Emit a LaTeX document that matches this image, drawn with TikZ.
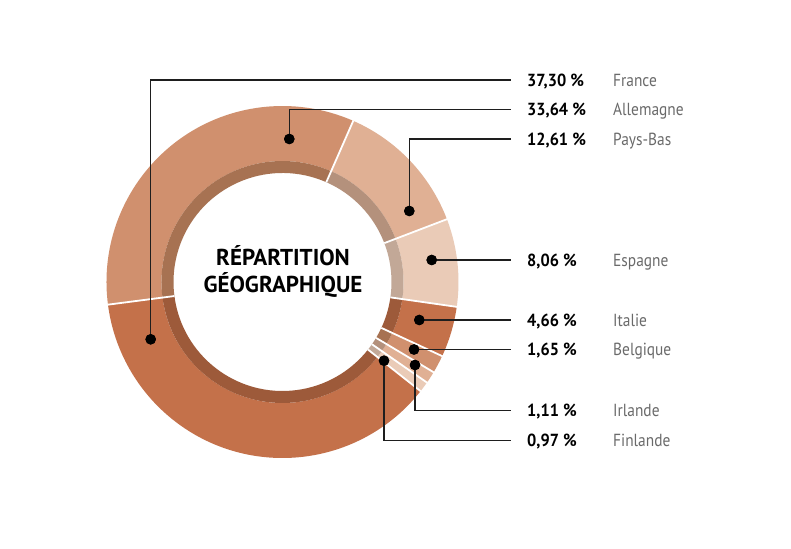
\documentclass[tikz,border=0pt]{standalone}
\usepackage{fontspec}
\setmainfont{PT Sans}
\newfontfamily\pctfont{PT Sans}[FakeStretch=0.93]
\newfontfamily\namefont{PT Sans}[FakeStretch=0.88]
\definecolor{cA}{HTML}{C4714A}
\definecolor{cAi}{HTML}{9D5A3A}
\definecolor{cB}{HTML}{D0906E}
\definecolor{cBi}{HTML}{A77252}
\definecolor{cC}{HTML}{E0B094}
\definecolor{cCi}{HTML}{B4917C}
\definecolor{cD}{HTML}{EACBB7}
\definecolor{cDi}{HTML}{C2A897}
\definecolor{lineC}{HTML}{1E1E1E}
\definecolor{nameC}{HTML}{6A6A6A}
\newcommand\donutseg[4]{%
  \fill[#3] (#1:176) arc[start angle=#1, end angle=#2, radius=176] -- (#2:121) arc[start angle=#2, end angle=#1, radius=121] -- cycle;
  \fill[#4] (#1:121) arc[start angle=#1, end angle=#2, radius=121] -- (#2:109) arc[start angle=#2, end angle=#1, radius=109] -- cycle;}
\begin{document}
\begin{tikzpicture}[x=1pt,y=1pt,
  lead/.style={draw=lineC, line width=1.5pt},
  sep/.style={draw=white, line width=1.8pt},
  dotc/.style={circle, fill=black, inner sep=0pt, minimum size=10.5pt},
  pct/.style={anchor=base west, font=\pctfont\bfseries\fontsize{17.5}{19}\selectfont, text=black, inner sep=0pt},
  cname/.style={anchor=base west, font=\namefont\fontsize{17.5}{19}\selectfont, text=nameC, inner sep=0pt},
  ttl/.style={anchor=base, font=\bfseries\fontsize{23}{25}\selectfont, text=black, inner sep=0pt}]
\useasboundingbox (0,0) rectangle (791,548);
\fill[white] (0,0) rectangle (791,548);
\begin{scope}[shift={(282.5,266)}]
  \donutseg{187.4}{66.30}{cB}{cBi}
  \donutseg{66.30}{20.90}{cC}{cCi}
  \donutseg{20.90}{-8.12}{cD}{cDi}
  \donutseg{-8.12}{-24.90}{cA}{cAi}
  \donutseg{-24.90}{-30.84}{cB}{cBi}
  \donutseg{-30.84}{-34.84}{cC}{cCi}
  \donutseg{-34.84}{-38.33}{cD}{cDi}
  \donutseg{-38.33}{-172.6}{cA}{cAi}
  \foreach \a in {187.4,66.30,20.90,-8.12,-24.90,-30.84,-34.84,-38.33}
    \draw[sep] (\a:109) -- (\a:176.5);
\end{scope}
% title
\node[ttl] (t1) at (283,282) {RÉPARTITION};
\node[ttl] (t2) at (283,255) {GÉOGRAPHIQUE};
% dots
\node[dotc] (dFr) at (150.7,208.7) {};
\node[dotc] (dAl) at (289.3,409) {};
\node[dotc] (dPB) at (409.3,337) {};
\node[dotc] (dEs) at (431.7,288) {};
\node[dotc] (dIt) at (419.3,228) {};
\node[dotc] (dBe) at (414,198.5) {};
\node[dotc] (dIr) at (415,183) {};
\node[dotc] (dFi) at (384,187.3) {};
% line ends
\coordinate (eFr) at (511,468);
\coordinate (eAl) at (511,438.5);
\coordinate (ePB) at (511,409);
\coordinate (eEs) at (511,288);
\coordinate (eIt) at (511,228);
\coordinate (eBe) at (511,198.5);
\coordinate (eIr) at (511,137.5);
\coordinate (eFi) at (511,107.5);
\draw[lead] (dFr.center) |- (eFr);
\draw[lead] (dAl.center) |- (eAl);
\draw[lead] (dPB.center) |- (ePB);
\draw[lead] (dEs.center) -- (eEs);
\draw[lead] (dIt.center) -- (eIt);
\draw[lead] (dBe.center) |- (eBe);
\draw[lead] (dIr.center) |- (eIr);
\draw[lead] (dFi.center) |- (eFi);
% redraw dots on top
\foreach \d in {dFr,dAl,dPB,dEs,dIt,dBe,dIr,dFi}
  \fill (\d) circle[radius=5.25];
% labels
\node[pct] (pFr) at (527,461.8) {37,30 \%};
\node[pct] (pAl) at (527,432.3) {33,64 \%};
\node[pct] (pPB) at (527,402.8) {12,61 \%};
\node[pct] (pEs) at (527,281.8) {8,06 \%};
\node[pct] (pIt) at (527,221.8) {4,66 \%};
\node[pct] (pBe) at (527,192.3) {1,65 \%};
\node[pct] (pIr) at (527,131.3) {1,11 \%};
\node[pct] (pFi) at (527,101.3) {0,97 \%};
\node[cname] (nFr) at (613,461.8) {France};
\node[cname] (nAl) at (613,432.3) {Allemagne};
\node[cname] (nPB) at (613,402.8) {Pays-Bas};
\node[cname] (nEs) at (613,281.8) {Espagne};
\node[cname] (nIt) at (613,221.8) {Italie};
\node[cname] (nBe) at (613,192.3) {Belgique};
\node[cname] (nIr) at (613,131.3) {Irlande};
\node[cname] (nFi) at (613,101.3) {Finlande};
\end{tikzpicture}
\end{document}
